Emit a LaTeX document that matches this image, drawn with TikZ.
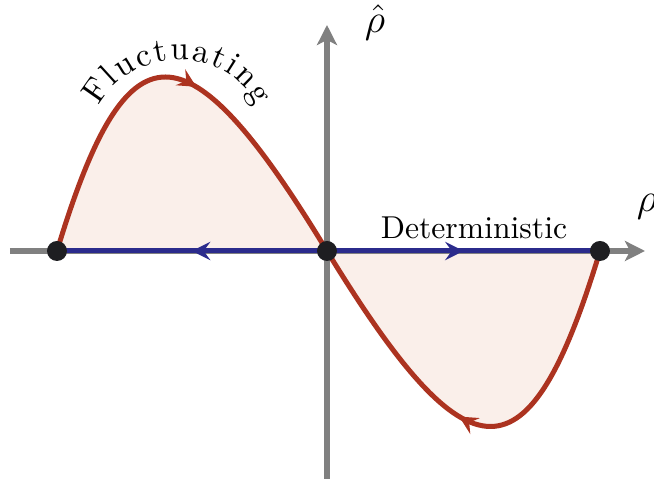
\documentclass[tikz,border=0pt]{standalone}
\usetikzlibrary{arrows.meta,decorations.markings,decorations.text}
\definecolor{flucred}{RGB}{172,51,32}
\definecolor{detblue}{RGB}{43,43,140}
\definecolor{lobefill}{RGB}{250,239,234}
\definecolor{axisgray}{RGB}{128,128,128}
\definecolor{fixdot}{RGB}{30,30,33}

\begin{document}
\begin{tikzpicture}[x=30pt,y=30pt,
  axis/.style={axisgray,line width=1.8pt,-{Stealth[length=6pt,width=6pt,inset=1.5pt]}},
  flow/.style={postaction={decorate},decoration={markings,mark=at position #1 with {\arrow{Stealth[length=5.5pt,width=5.5pt,inset=2pt]}}}},
  fixpt/.style={circle,fill=fixdot,inner sep=0pt,minimum size=6pt}]
\useasboundingbox (-3.27,-2.28) rectangle (3.27,2.51);
\coordinate (O) at (0,0); \coordinate (L) at (-2.7,0); \coordinate (R) at (2.73,0);
\coordinate (xs) at (-3.17,0); \coordinate (xe) at (3.18,0);
\coordinate (ys) at (0,-2.3); \coordinate (ye) at (0,2.26);
\fill[lobefill] (L) .. controls (-2.0,2.32) and (-1.41,2.32) .. (O) -- cycle;
\fill[lobefill] (R) .. controls (2.02,-2.34) and (1.43,-2.34) .. (O) -- cycle;
\draw[axis] (xs) -- (xe);
\draw[axis] (ys) -- (ye);
\draw[detblue,line width=1.5pt,flow=0.5] (O) -- (L);
\draw[detblue,line width=1.5pt,flow=0.5] (O) -- (R);
\draw[flucred,line width=1.5pt,flow=0.54] (L) .. controls (-2.0,2.32) and (-1.41,2.32) .. (O);
\draw[flucred,line width=1.5pt,flow=0.54] (R) .. controls (2.02,-2.34) and (1.43,-2.34) .. (O);
% label along the upper lobe
\path[decorate,decoration={text along path,text={Fluctuating},text align=fit to path}]
  (-2.28,1.45) .. controls (-1.97,2.05) and (-1.0,2.08) .. (-0.71,1.45);
\node[fixpt] (Lpt) at (L) {}; \node[fixpt] (Opt) at (O) {}; \node[fixpt] (Rpt) at (R) {};
\node[anchor=base,font=\fontsize{9.5}{11}\selectfont] (detlabel) at (1.47,0.12) {Deterministic};
\node (rhohat) at (0.48,2.28) {\large$\hat\rho$};
\node (rho) at (3.2,0.44) {\large$\rho$};
\end{tikzpicture}
\end{document}
